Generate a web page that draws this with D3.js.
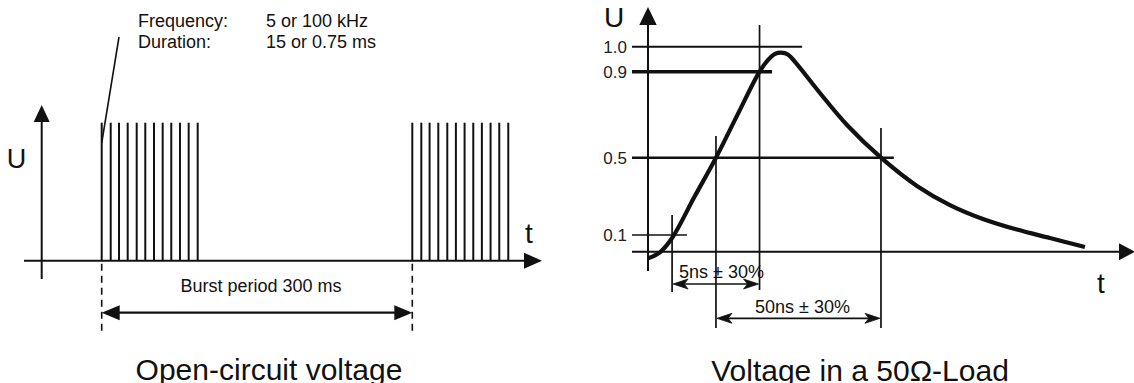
<!DOCTYPE html>
<html>
<head>
<meta charset="utf-8">
<script src="https://cdn.jsdelivr.net/npm/d3@7"></script>
<style>
  html, body { margin: 0; padding: 0; background: #fff; overflow: hidden; }
  svg { display: block; font-family: "Liberation Sans", Arial, sans-serif; }
</style>
</head>
<body>
<svg id="chart" width="1134" height="383"></svg>
<script>
//============================================================
// Data
//------------------------------------------------------------

// left: burst train (schematic, ms)
var burstStarts = [0, 300];
var pulseOffsets = [0, 8.7, 16.7, 25.1, 33.8, 42.1, 50.5, 58.9, 67.2, 75.6, 84.0, 92.7];
var pulseLevel = 1;
var infoLabels = ['Frequency:', 'Duration:'];
var infoValues = ['5 or 100 kHz', '15 or 0.75 ms'];
var periodLabel = 'Burst period 300 ms';

// right: single pulse (schematic time units, U normalised)
var pulseT = [0, 3.6, 7.3, 14, 20.6, 27.1, 33.8, 36.4, 38.5, 40.3, 42.4, 44.8, 52.1, 60.3, 70.6, 81.5, 91.5, 101.5, 111.8, 121.8, 132.4];
var pulseU = [-0.04, -0.004, 0.082, 0.295, 0.5, 0.699, 0.9, 0.947, 0.971, 0.976, 0.969, 0.935, 0.801, 0.652, 0.5, 0.354, 0.255, 0.183, 0.128, 0.082, 0.028];
var levelTicks = [1.0, 0.9, 0.5, 0.1];
var levelLabels = ['1.0', '0.9', '0.5', '0.1'];
var markerT = [7.3, 20.6, 33.8, 70.6];   // 10% rise, 50% rise, 90% rise, 50% fall
var spanLabels = ['5ns \u00b1 30%', '50ns \u00b1 30%'];

var titles = ['Open-circuit voltage', 'Voltage in a 50\u03a9-Load'];

//============================================================
// Setup
//------------------------------------------------------------

var svg = d3.select('#chart');
var ink = '#111';

function arrowHead(g, x, y, dir, len, half) {
  // solid triangle, dir: 'up' | 'right' | 'left'
  var p;
  if (dir === 'up') { p = [[x, y], [x - half, y + len], [x + half, y + len]]; }
  else if (dir === 'right') { p = [[x, y], [x - len, y - half], [x - len, y + half]]; }
  else { p = [[x, y], [x + len, y - half], [x + len, y + half]]; }
  g.append('path').attr('d', 'M' + p.join('L') + 'Z').attr('fill', ink);
}

function openHead(g, x, y, dir) {
  var s = dir === 'left' ? 1 : -1;
  g.append('path')
      .attr('d', 'M' + x + ',' + y + 'L' + (x + s * 15) + ',' + (y - 5) +
                 'L' + (x + s * 11) + ',' + y + 'L' + (x + s * 15) + ',' + (y + 5) + 'Z')
      .attr('fill', ink)
      .attr('stroke', ink)
      .attr('stroke-width', 0.8)
      .attr('stroke-linejoin', 'round');
}

//============================================================
// Left panel: open-circuit voltage
//------------------------------------------------------------

var xL = d3.scaleLinear().domain([0, 300]).range([101.7, 412.3]);
var yL = d3.scaleLinear().domain([0, 1]).range([260.7, 122.7]);
var gL = svg.append('g').attr('class', 'left');

// axes
gL.append('line').attr('x1', 24).attr('x2', 526).attr('y1', yL(0)).attr('y2', yL(0))
    .attr('stroke', ink).attr('stroke-width', 2);
arrowHead(gL, 542, yL(0), 'right', 18, 8);
gL.append('line').attr('x1', 41.7).attr('x2', 41.7).attr('y1', 279).attr('y2', 120)
    .attr('stroke', ink).attr('stroke-width', 2);
arrowHead(gL, 41.7, 105, 'up', 17, 8);

gL.append('text').attr('x', 16.5).attr('y', 168).attr('text-anchor', 'middle')
    .attr('font-size', 27).attr('fill', ink).text('U');
gL.append('text').attr('x', 529).attr('y', 243).attr('text-anchor', 'middle')
    .attr('font-size', 28).attr('fill', ink).text('t');

// pulses
var pulses = [];
burstStarts.forEach(function (b) {
  pulseOffsets.forEach(function (o) { pulses.push(b + o); });
});
gL.selectAll('line.pulse')
    .data(pulses)
  .enter().append('line')
    .attr('class', 'pulse')
    .attr('x1', function (d) { return xL(d); })
    .attr('x2', function (d) { return xL(d); })
    .attr('y1', yL(0))
    .attr('y2', yL(pulseLevel))
    .attr('stroke', ink)
    .attr('stroke-width', 2);

// leader line to first pulse + info text
gL.append('line').attr('x1', 119).attr('y1', 37).attr('x2', xL(burstStarts[0])).attr('y2', 143)
    .attr('stroke', ink).attr('stroke-width', 1.6);
infoLabels.forEach(function (d, i) {
  gL.append('text').attr('x', 138).attr('y', 27 + i * 20.5)
      .attr('font-size', 18).attr('fill', ink).text(d);
  gL.append('text').attr('x', 266).attr('y', 27 + i * 20.5)
      .attr('font-size', 18).attr('fill', ink).text(infoValues[i]);
});

// burst period dimension
gL.selectAll('line.dash')
    .data(burstStarts)
  .enter().append('line')
    .attr('class', 'dash')
    .attr('x1', function (d) { return xL(d); })
    .attr('x2', function (d) { return xL(d); })
    .attr('y1', yL(0) + 3)
    .attr('y2', 331)
    .attr('stroke', ink)
    .attr('stroke-width', 1.6)
    .attr('stroke-dasharray', '7,5');
var yP = 312.7;
gL.append('line').attr('x1', xL(burstStarts[0]) + 10).attr('x2', xL(burstStarts[1]) - 10)
    .attr('y1', yP).attr('y2', yP).attr('stroke', ink).attr('stroke-width', 2.2);
arrowHead(gL, xL(burstStarts[0]), yP, 'left', 18, 7.5);
arrowHead(gL, xL(burstStarts[1]), yP, 'right', 18, 7.5);
gL.append('text').attr('x', 261).attr('y', 291.7).attr('text-anchor', 'middle')
    .attr('font-size', 18).attr('fill', ink).text(periodLabel);

gL.append('text').attr('x', 269).attr('y', 380).attr('text-anchor', 'middle')
    .attr('font-size', 30).attr('fill', ink).text(titles[0]);

//============================================================
// Right panel: voltage in a 50 ohm load
//------------------------------------------------------------

var xR = d3.scaleLinear().domain([0, 100]).range([648, 978]);
var yR = d3.scaleLinear().domain([0, 0.1, 0.5, 0.9, 1.0]).range([251.7, 235, 157.7, 71.7, 46.7]);
var gR = svg.append('g').attr('class', 'right');

// level lines: right end (time units) and stroke width per level
var levelEnds = [46.7, 37.6, 74.5, 11.8];
var levelWidths = [2, 3.6, 2.6, 1.6];
gR.selectAll('line.level')
    .data(levelTicks)
  .enter().append('line')
    .attr('class', 'level')
    .attr('x1', 632)
    .attr('x2', function (d, i) { return xR(levelEnds[i]); })
    .attr('y1', function (d) { return yR(d); })
    .attr('y2', function (d) { return yR(d); })
    .attr('stroke', ink)
    .attr('stroke-width', function (d, i) { return levelWidths[i]; });
gR.selectAll('text.level')
    .data(levelTicks)
  .enter().append('text')
    .attr('class', 'level')
    .attr('x', 627)
    .attr('y', function (d) { return yR(d) + 6; })
    .attr('text-anchor', 'end')
    .attr('font-size', 17)
    .attr('fill', '#222')
    .text(function (d, i) { return levelLabels[i]; });

// markers: vertical extents in px
var markerTop = [215, 136, 25, 128];
var markerBottom = [292, 328, 290, 328];
gR.selectAll('line.marker')
    .data(markerT)
  .enter().append('line')
    .attr('class', 'marker')
    .attr('x1', function (d) { return xR(d); })
    .attr('x2', function (d) { return xR(d); })
    .attr('y1', function (d, i) { return markerTop[i]; })
    .attr('y2', function (d, i) { return markerBottom[i]; })
    .attr('stroke', ink)
    .attr('stroke-width', 1.7);

// axes
gR.append('line').attr('x1', 632).attr('x2', 1122).attr('y1', yR(0)).attr('y2', yR(0))
    .attr('stroke', ink).attr('stroke-width', 2);
arrowHead(gR, 1135, yR(0), 'right', 16, 8.5);
gR.append('line').attr('x1', xR(0)).attr('x2', xR(0)).attr('y1', 271).attr('y2', 23)
    .attr('stroke', ink).attr('stroke-width', 2);
arrowHead(gR, xR(0), 7, 'up', 18, 8.7);

gR.append('text').attr('x', 614).attr('y', 27).attr('text-anchor', 'middle')
    .attr('font-size', 28).attr('fill', ink).text('U');
gR.append('text').attr('x', 1101).attr('y', 293).attr('text-anchor', 'middle')
    .attr('font-size', 28).attr('fill', ink).text('t');

// pulse curve
var line = d3.line()
    .x(function (d) { return xR(d[0]); })
    .y(function (d) { return yR(d[1]); })
    .curve(d3.curveCatmullRom.alpha(0.5));
gR.append('path')
    .datum(d3.zip(pulseT, pulseU))
    .attr('d', line)
    .attr('fill', 'none')
    .attr('stroke', ink)
    .attr('stroke-width', 4.2)
    .attr('stroke-linecap', 'butt');

// time spans
var spans = [[0, 2, 284, 679, 277.7], [1, 3, 318.3, 755, 313]];
spans.forEach(function (s, i) {
  var x0 = xR(markerT[s[0]]), x1 = xR(markerT[s[1]]);
  gR.append('line').attr('x1', x0 + 4).attr('x2', x1 - 4).attr('y1', s[2]).attr('y2', s[2])
      .attr('stroke', ink).attr('stroke-width', 1.7);
  openHead(gR, x0 + 1, s[2], 'left');
  openHead(gR, x1 - 1, s[2], 'right');
  gR.append('text').attr('x', s[3]).attr('y', s[4])
      .attr('font-size', 18).attr('fill', ink).text(spanLabels[i]);
});

gR.append('text').attr('x', 860).attr('y', 381).attr('text-anchor', 'middle')
    .attr('font-size', 30).attr('fill', ink).text(titles[1]);
</script>
</body>
</html>
